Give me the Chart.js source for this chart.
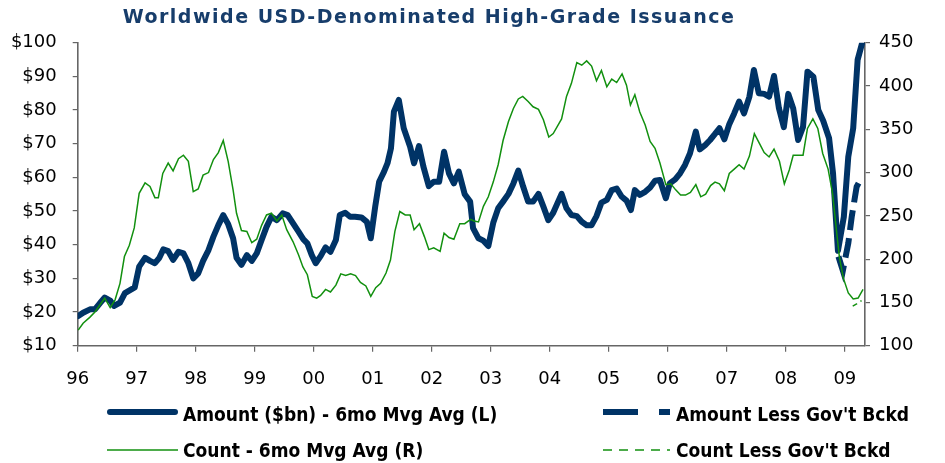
<!DOCTYPE html>
<html><head><meta charset="utf-8">
<script src="https://cdn.jsdelivr.net/npm/chart.js@4.4.0/dist/chart.umd.min.js"></script>
<style>html,body{margin:0;padding:0;background:#fff;}#wrap{width:945px;height:463px;position:relative;}</style>
</head><body><div id="wrap"><canvas id="c" width="945" height="463"></canvas></div>
<script>
const TITLE = 'Worldwide USD-Denominated High-Grade Issuance';
const yearLabels = ['96','97','98','99','00','01','02','03','04','05','06','07','08','09'];
const seriesNames = ['Amount ($bn) - 6mo Mvg Avg (L)', "Amount Less Gov't Bckd", 'Count - 6mo Mvg Avg (R)', "Count Less Gov't Bckd"];

// x = months since Jan 1996
const amountMonths = [0.1,1.1,2.5,3.5,4.5,5.5,6.6,7.4,8.6,9.6,11.6,12.5,13.7,14.7,15.7,16.6,17.4,18.4,19.4,20.5,21.5,22.5,23.5,24.5,25.5,26.6,27.6,28.6,29.6,30.6,31.6,32.3,33.3,34.4,35.4,36.4,37.4,38.4,39.4,40.5,41.7,42.7,43.8,44.9,45.9,46.7,47.6,48.4,49.4,50.4,51.4,52.5,53.3,54.4,55.4,56.4,57.7,58.8,59.6,60.5,61.3,62.3,63.0,63.7,64.3,65.3,66.3,67.6,68.4,69.4,70.3,71.4,72.4,73.5,74.5,75.5,76.5,77.5,78.7,79.8,80.4,81.5,82.5,83.5,84.5,85.5,86.5,87.6,88.6,89.6,90.6,91.6,92.6,93.7,94.7,95.7,96.7,98.4,99.4,100.4,101.5,102.5,103.5,104.5,105.5,106.5,107.6,108.6,109.6,110.6,111.6,112.5,113.3,114.3,115.4,116.4,117.4,118.4,119.6,120.4,121.5,122.5,123.5,124.5,125.7,126.5,127.6,128.6,129.6,130.5,131.5,132.5,133.5,134.5,135.5,136.6,137.5,138.5,139.6,140.6,141.6,142.6,143.6,144.5,145.5,146.5,147.5,148.4,149.6,150.6,151.6,152.8,153.6,154.6,155.8,156.7,157.7,158.6,159.5];
const amountValues = [18.8,19.8,20.8,20.8,22.6,24.3,23.4,21.8,22.8,25.6,27.3,33.5,36.1,35.2,34.5,36.1,38.6,38.1,35.5,37.9,37.4,34.5,30.0,31.5,35.2,38.4,42.4,45.8,48.8,46.1,41.9,36.1,34.0,36.9,35.2,37.4,41.4,45.3,48.3,47.3,49.3,48.8,46.3,43.9,41.6,40.4,36.9,34.5,36.6,39.2,37.9,41.4,48.8,49.5,48.3,48.3,48.1,46.8,41.9,51.3,58.7,61.7,64.2,68.6,79.5,83.0,74.6,69.1,64.2,69.3,63.2,57.4,58.7,58.7,67.6,61.2,58.2,61.7,55.0,52.8,44.9,41.9,41.2,39.6,46.5,50.8,52.8,55.1,58.2,62.0,57.2,52.8,52.8,55.1,51.3,47.3,49.5,55.1,50.8,48.8,48.5,46.8,45.8,45.8,48.5,52.5,53.3,56.2,56.7,54.3,53.1,50.3,56.2,54.8,55.7,57.0,59.0,59.2,53.8,58.2,59.4,61.2,63.7,67.1,73.6,68.3,69.6,71.1,72.9,74.6,71.3,75.8,79.0,82.5,79.0,84.0,91.9,85.0,84.8,84.0,90.1,80.5,74.9,84.8,80.5,71.1,75.0,91.4,89.9,80.0,76.8,71.6,61.2,38.2,48.3,66.1,74.6,94.9,99.8];

const amountLessMonths = [154.7,155.6,156.7,157.4,158.4,159.3];
const amountLessValues = [36.5,32.3,40.4,48.3,57.2,59.7];

const countMonths = [0.1,1.1,2.5,3.5,4.5,5.5,6.6,7.6,8.6,9.5,10.5,11.5,12.5,13.7,14.7,15.7,16.4,17.3,18.4,19.4,20.5,21.5,22.5,23.5,24.5,25.5,26.6,27.6,28.6,29.6,30.6,31.6,32.3,33.3,34.4,35.4,36.4,37.4,38.4,39.4,40.5,41.5,42.5,43.8,44.9,45.8,46.7,47.7,48.6,49.4,50.4,51.4,52.5,53.5,54.5,55.5,56.5,57.5,58.6,59.6,60.6,61.6,62.7,63.6,64.5,65.5,66.6,67.6,68.4,69.5,70.5,71.4,72.4,73.7,74.5,75.5,76.5,77.7,78.7,79.9,80.6,81.5,82.5,83.5,84.5,85.5,86.5,87.6,88.6,89.6,90.5,91.6,92.6,93.7,94.7,95.8,96.7,98.4,99.4,100.4,101.5,102.5,103.5,104.5,105.5,106.5,107.6,108.6,109.6,110.7,111.6,112.4,113.3,114.3,115.4,116.4,117.4,118.4,119.6,120.6,121.6,122.6,123.6,124.6,125.7,126.7,127.7,128.7,129.6,130.5,131.5,132.5,133.5,134.5,135.5,136.6,137.6,138.6,139.6,140.6,141.6,142.7,143.7,144.7,145.5,146.5,147.5,148.4,149.5,150.5,151.5,152.6,153.5,154.3,154.9,155.7,156.7,157.7,158.7,159.7];
const countValues = [118,126,133,139,147,155,144,153,172,203,216,236,276,288,284,271,271,299,311,302,316,320,313,278,281,297,300,315,323,337,313,280,253,233,232,219,223,239,251,253,244,251,234,220,205,191,182,157,155,158,165,162,170,183,181,183,181,173,169,157,167,172,184,199,232,255,251,251,234,241,226,211,213,209,230,225,223,241,241,246,244,243,261,272,289,309,337,359,374,385,388,382,376,373,361,341,345,362,388,403,427,424,429,423,406,418,399,408,404,414,401,378,390,370,355,336,328,311,286,287,280,274,274,277,286,272,275,285,289,287,279,299,304,309,304,319,345,334,323,318,327,313,287,303,320,320,320,351,362,351,322,304,276,233,202,178,161,154,155,165];

const countLessMonths = [157.6,158.4,159.4];
const countLessValues = [145.8,148.2,152];

const NAVY = '#003366';
const GREEN = '#12900f';
const AXIS = '#666666';
const FONT = 'DejaVu Sans';

const pts = (xs, ys) => xs.map((x, i) => ({x: x, y: ys[i]}));

const titlePlugin = {
  id: 'customTitle',
  afterDraw(chart) {
    const ctx = chart.ctx;
    ctx.save();
    ctx.font = 'bold 19px ' + FONT;
    if ('letterSpacing' in ctx) ctx.letterSpacing = '1.5px';
    ctx.fillStyle = '#173d6b';
    ctx.textAlign = 'center';
    ctx.textBaseline = 'middle';
    ctx.fillText(TITLE, 429, 18);
    ctx.restore();
  }
};

const legendPlugin = {
  id: 'gridLegend',
  afterDraw(chart) {
    const ctx = chart.ctx;
    const colX0 = [107, 603], colX1 = [178, 670], textX = [183, 676], rowY = [412, 450], textDy = [4, 2];
    chart.data.datasets.forEach((ds, i) => {
      const col = i % 2, row = Math.floor(i / 2);
      const y = rowY[row];
      ctx.save();
      ctx.strokeStyle = ds.borderColor;
      ctx.lineWidth = ds.borderWidth;
      ctx.lineCap = ds.legendCap || 'butt';
      ctx.setLineDash(ds.legendDash || []);
      ctx.beginPath();
      const inset = ctx.lineCap === 'round' ? ds.borderWidth / 2 : 0;
      ctx.moveTo(colX0[col] + inset, y);
      ctx.lineTo(colX1[col] - inset, y);
      ctx.stroke();
      ctx.setLineDash([]);
      ctx.font = 'bold 19px "DejaVu Sans Condensed", ' + FONT;
      ctx.fillStyle = '#000';
      ctx.textAlign = 'left';
      ctx.textBaseline = 'middle';
      ctx.fillText(ds.label, textX[col], y + textDy[row]);
      ctx.restore();
    });
  }
};

new Chart(document.getElementById('c'), {
  type: 'line',
  data: {
    datasets: [
      {label: seriesNames[0], data: pts(amountMonths, amountValues), yAxisID: 'yL', borderColor: NAVY, borderWidth: 6, borderJoinStyle: 'round', borderCapStyle: 'round', legendCap: 'round', pointRadius: 0, tension: 0, order: 2},
      {label: seriesNames[1], data: pts(amountLessMonths, amountLessValues), yAxisID: 'yL', borderColor: NAVY, borderWidth: 6, borderDash: [20, 8], legendDash: [35, 21], pointRadius: 0, tension: 0, order: 2},
      {label: seriesNames[2], data: pts(countMonths, countValues), yAxisID: 'yR', borderColor: GREEN, borderWidth: 1.5, pointRadius: 0, tension: 0, order: 1},
      {label: seriesNames[3], data: pts(countLessMonths, countLessValues), yAxisID: 'yR', borderColor: GREEN, borderWidth: 1.5, borderDash: [5, 4], legendDash: [9, 7], pointRadius: 0, tension: 0, order: 1}
    ]
  },
  options: {
    responsive: false,
    animation: false,
    devicePixelRatio: 1,
    layout: {padding: {top: 42.7, bottom: 72.3, left: 0, right: 0}},
    plugins: {legend: {display: false}, title: {display: false}, tooltip: {enabled: false}},
    scales: {
      x: {
        type: 'linear', min: 0, max: 160.1,
        afterBuildTicks: (s) => { s.ticks = yearLabels.map((_, i) => ({value: i * 12})); },
        afterFit: (s) => { s.height = 45; },
        ticks: {autoSkip: false, maxRotation: 0, color: '#000', font: {family: FONT, size: 18}, padding: 17,
                callback: (v) => yearLabels[Math.round(v / 12)]},
        grid: {drawOnChartArea: false, drawTicks: true, tickLength: 6, color: AXIS, lineWidth: 1.2},
        border: {color: AXIS, width: 1.6}
      },
      yL: {
        position: 'left', min: 10, max: 100,
        afterFit: (s) => { s.width = 77.7; },
        ticks: {stepSize: 10, color: '#000', font: {family: FONT, size: 18}, padding: 16, callback: (v) => '$' + v},
        grid: {drawOnChartArea: false, drawTicks: true, tickLength: 5, color: AXIS, lineWidth: 1.2},
        border: {color: AXIS, width: 1.6}
      },
      yR: {
        position: 'right', min: 100, max: 450,
        afterFit: (s) => { s.width = 80; },
        ticks: {stepSize: 50, color: '#000', font: {family: FONT, size: 18}, padding: 9},
        grid: {drawOnChartArea: false, drawTicks: true, tickLength: 5, color: AXIS, lineWidth: 1.2},
        border: {color: AXIS, width: 1.6}
      }
    }
  },
  plugins: [titlePlugin, legendPlugin]
});
</script></body></html>
